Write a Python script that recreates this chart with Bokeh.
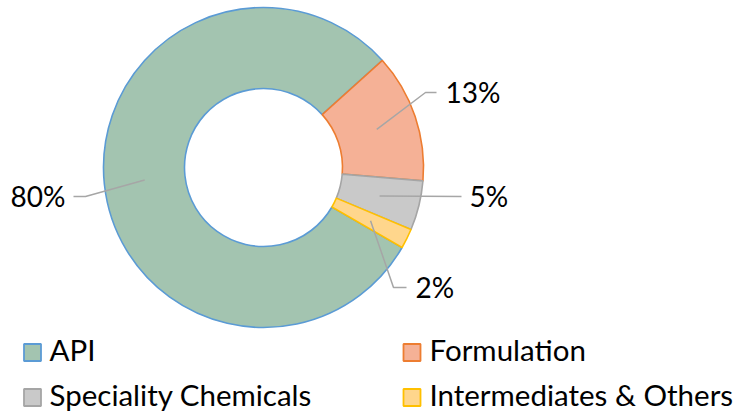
import math
from bokeh.plotting import figure
from bokeh.models import Range1d
from bokeh.core.properties import value
from bokeh.embed import file_html
from bokeh.resources import INLINE

# ---- data ----
categories = ["API", "Formulation", "Speciality Chemicals", "Intermediates & Others"]
shares = [80, 13, 5, 2]
labels = ["80%", "13%", "5%", "2%"]

# ---- style / layout ----
fills = ["#A3C4B0", "#F5B196", "#C9C9C9", "#FFD68C"]
lines = ["#5B9BD5", "#ED7D31", "#A5A5A5", "#FFC000"]
FONT = "Lato"
FS = "28px"
FS_LEG = "29.5px"
W, H = 739, 415
CX, CY = 263, 248
R_OUT, R_IN = 160, 79
FIRST_ANGLE = 330.0  # degrees, slices run clockwise from here

# label anchors (x, y, align) and leader elbow points
label_pos = [(65, 220, "right"), (445, 324, "left"), (469, 220, "left"), (415, 129, "left")]
leader_elbows = [[(85, 219), (73, 219)], [(425, 323), (436, 323)], [(461, 219)], [(393, 128), (406, 128)]]
# legend: square x, square y, text x, text y
legend_pos = [(32, 63, 49, 66), (411.5, 63, 429, 66), (32, 18, 49, 21), (411.5, 18, 429, 21)]

p = figure(width=W, height=H, output_backend="svg", toolbar_location=None,
           x_range=Range1d(0, W), y_range=Range1d(0, H), min_border=0)
p.axis.visible = False
p.grid.visible = False
p.outline_line_color = None
p.background_fill_color = "white"

total = float(sum(shares))
angle = FIRST_ANGLE
mids = []
for i, v in enumerate(shares):
    span = v / total * 360.0
    start = angle
    end = angle - span
    p.annular_wedge(x=CX, y=CY, inner_radius=R_IN, outer_radius=R_OUT,
                    start_angle=math.radians(end), end_angle=math.radians(start),
                    fill_color=fills[i], line_color=lines[i], line_width=1.6)
    mids.append(math.radians((start + end) / 2))
    angle = end

r_mid = (R_IN + R_OUT) / 2
for i, lab in enumerate(labels):
    mx = CX + r_mid * math.cos(mids[i])
    my = CY + r_mid * math.sin(mids[i])
    xs = [mx] + [pt[0] for pt in leader_elbows[i]]
    ys = [my] + [pt[1] for pt in leader_elbows[i]]
    p.line(xs, ys, line_color="#A6A6A6", line_width=1.5)
    lx, ly, al = label_pos[i]
    p.text(x=[lx], y=[ly], text=[lab], text_font=value(FONT), text_font_size=FS,
           text_align=al, text_baseline="alphabetic", text_color="#000000")

for i, cat in enumerate(categories):
    sx, sy, tx, ty = legend_pos[i]
    p.scatter(x=[sx], y=[sy], marker="square", size=17, fill_color=fills[i],
              line_color=lines[i], line_width=1.8)
    p.text(x=[tx], y=[ty], text=[cat], text_font=value(FONT), text_font_size=FS_LEG,
           text_align="left", text_baseline="alphabetic", text_color="#000000")

open("out.html", "w").write(file_html(p, INLINE))
